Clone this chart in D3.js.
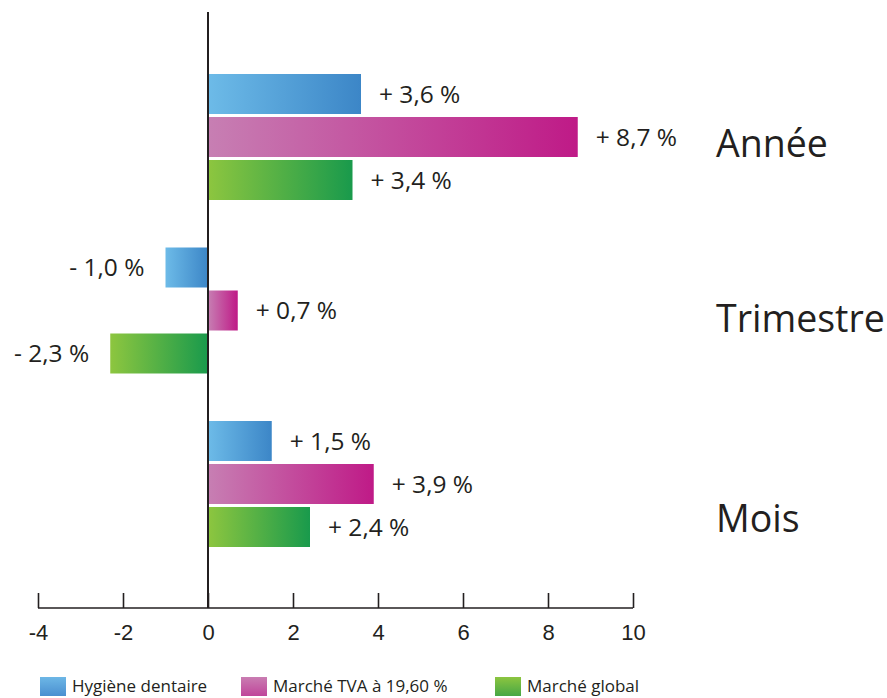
<!DOCTYPE html>
<html>
<head>
<meta charset="utf-8">
<script src="https://cdn.jsdelivr.net/npm/d3@7"></script>
<style>
  html, body { margin: 0; padding: 0; background: #fff; }
  svg { display: block; font-family: "Open Sans", "Noto Sans", sans-serif; }
</style>
</head>
<body>
<svg id="chart" width="887" height="698"></svg>
<script>
// Périodes (groupes de barres), de haut en bas
const categories = ["Année", "Trimestre", "Mois"];
// Séries
const series = ["Hygiène dentaire", "Marché TVA à 19,60 %", "Marché global"];
// Évolution en % par période, une liste par série
const hygieneDentaire = [3.6, -1.0, 1.5];
const marcheTVA = [8.7, 0.7, 3.9];
const marcheGlobal = [3.4, -2.3, 2.4];
// Graduations de l'axe horizontal
const xTicks = [-4, -2, 0, 2, 4, 6, 8, 10];

const seriesValues = [hygieneDentaire, marcheTVA, marcheGlobal];
const palette = [
  { light: "#6dbbe8", dark: "#3c86c7", legTop: "#6db7e6", legBottom: "#4a8fd0" },
  { light: "#c77fb3", dark: "#bf1a87", legTop: "#c97db2", legBottom: "#c0459a" },
  { light: "#8dc63f", dark: "#199a4c", legTop: "#8cc540", legBottom: "#47a745" }
];

const rows = [];
categories.forEach((c, ci) => {
  series.forEach((s, si) => {
    rows.push({ category: c, series: s, si, value: seriesValues[si][ci] });
  });
});

const svg = d3.select("#chart");

const x = d3.scaleLinear().domain([-4, 10]).range([38, 633]);
const yGroup = d3.scaleBand().domain(categories).range([74, 547]).paddingInner(0.2738).paddingOuter(0);
const yBar = d3.scaleBand().domain(series).range([0, yGroup.bandwidth()]).paddingInner(0.0698).paddingOuter(0);

// Dégradés horizontaux des barres, verticaux pour la légende
const defs = svg.append("defs");
palette.forEach((p, i) => {
  const g = defs.append("linearGradient").attr("id", "bar" + i)
    .attr("x1", "0").attr("y1", "0").attr("x2", "1").attr("y2", "0");
  g.append("stop").attr("offset", "0").attr("stop-color", p.light);
  g.append("stop").attr("offset", "1").attr("stop-color", p.dark);
  const l = defs.append("linearGradient").attr("id", "leg" + i)
    .attr("x1", "0").attr("y1", "0").attr("x2", "0").attr("y2", "1");
  l.append("stop").attr("offset", "0").attr("stop-color", p.legTop);
  l.append("stop").attr("offset", "1").attr("stop-color", p.legBottom);
});

// Barres
svg.append("g").selectAll("rect").data(rows).join("rect")
  .attr("x", d => x(Math.min(0, d.value)))
  .attr("y", d => yGroup(d.category) + yBar(d.series))
  .attr("width", d => Math.abs(x(d.value) - x(0)))
  .attr("height", yBar.bandwidth())
  .attr("fill", d => `url(#bar${d.si})`);

// Étiquettes de valeur
const fmt = v => (v >= 0 ? "+ " : "- ") + d3.format(".1f")(Math.abs(v)).replace(".", ",") + " %";
svg.append("g").selectAll("text").data(rows).join("text")
  .attr("x", d => d.value >= 0 ? x(d.value) + 18 : x(d.value) - 21)
  .attr("y", d => yGroup(d.category) + yBar(d.series) + yBar.bandwidth() / 2 + 2)
  .attr("text-anchor", d => d.value >= 0 ? "start" : "end")
  .attr("dominant-baseline", "middle")
  .attr("font-size", 24.5)
  .attr("fill", "#231f20")
  .text(d => fmt(d.value));

// Noms des périodes
const titleNudge = { "Année": 10, "Trimestre": 11, "Mois": 38 };
svg.append("g").selectAll("text").data(categories).join("text")
  .attr("x", 716)
  .attr("y", c => yGroup(c) + yGroup.bandwidth() / 2 + titleNudge[c])
  .attr("dominant-baseline", "middle")
  .attr("font-size", 37.5)
  .attr("fill", "#231f20")
  .text(c => c);

// Axe vertical (zéro)
svg.append("line")
  .attr("x1", x(0)).attr("x2", x(0)).attr("y1", 12).attr("y2", 608)
  .attr("stroke", "#231f20").attr("stroke-width", 2);

// Axe horizontal, graduations vers le haut
const axis = d3.axisTop(x).tickValues(xTicks).tickSize(15).tickFormat(d => d);
const ax = svg.append("g").attr("transform", "translate(0,608)").call(axis);
ax.select(".domain").attr("d", `M${x(-4)},0H${x(10)}`).attr("stroke", "#231f20").attr("stroke-width", 1.6);
ax.selectAll(".tick line").attr("stroke", "#231f20").attr("stroke-width", 1.6);
ax.selectAll(".tick text")
  .attr("y", 24).attr("dy", "0.35em")
  .attr("font-size", 22).attr("fill", "#231f20").attr("font-family", "inherit");

// Légende
const legendX = [40, 241, 495];
const leg = svg.append("g").selectAll("g").data(series).join("g")
  .attr("transform", (s, i) => `translate(${legendX[i]},677)`);
leg.append("rect").attr("width", 26).attr("height", 19).attr("fill", (s, i) => `url(#leg${i})`);
leg.append("text").attr("x", 32).attr("y", 10).attr("dominant-baseline", "middle")
  .attr("font-size", 17).attr("fill", "#231f20").text(s => s);
</script>
</body>
</html>
